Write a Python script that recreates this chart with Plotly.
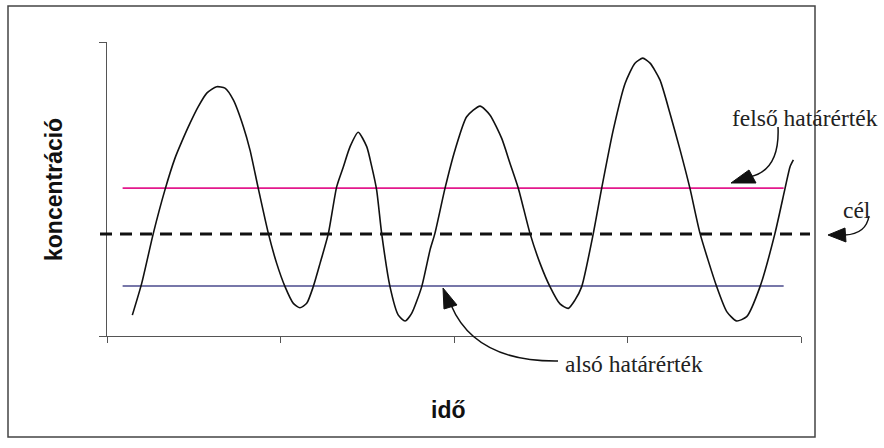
import plotly.graph_objects as go

# ---- data ----
time = [1.46, 2.00, 2.67, 3.34, 3.92, 4.31, 4.78, 5.26, 5.75, 6.32, 6.80, 7.28, 7.86, 8.24,
        8.72, 9.30, 9.78, 10.26, 10.74, 11.12, 11.51, 11.89, 12.28, 12.76, 13.24, 13.62,
        14.01, 14.48, 14.97, 15.26, 15.54, 15.83, 16.31, 16.79, 17.18, 17.56, 18.14, 18.62,
        18.90, 19.48, 20.06, 20.73, 21.50, 22.07, 22.75, 23.23, 23.71, 24.38, 24.96, 25.53,
        26.11, 26.59, 26.97, 27.36, 28.03, 28.51, 29.18, 29.86, 30.43, 30.88, 31.30, 31.87,
        32.45, 33.03, 33.60, 34.18, 35.14, 35.72, 36.29, 36.87, 37.64, 38.50, 39.08, 39.37,
        39.56]
concentration = [7.1, 17.9, 34.9, 49.7, 60.5, 66.1, 72.3, 78.0, 82.6, 84.8, 84.3, 80.3, 71.2,
                 63.3, 50.2, 34.9, 24.7, 16.8, 11.1, 9.6, 11.1, 16.8, 24.7, 34.9, 50.8, 57.5,
                 64.4, 69.3, 64.4, 57.6, 49.7, 34.9, 16.8, 7.1, 5.1, 7.7, 16.8, 29.3, 34.9,
                 50.2, 63.3, 74.6, 78.2, 75.2, 67.2, 58.7, 50.2, 34.9, 24.7, 16.8, 10.9, 9.4,
                 12.2, 16.8, 34.9, 50.2, 70.1, 85.9, 92.8, 94.5, 92.8, 87.1, 75.7, 63.3, 50.2,
                 34.9, 16.8, 8.3, 5.1, 6.6, 16.8, 34.9, 50.2, 57.6, 59.9]
upper_limit = 50.3
lower_limit = 17.0
target = 34.7
limit_span = [0.9, 39.0]
x_ticks = [0, 10, 20, 30, 40]
y_ticks = [0, 100]

labels = {"x": "idő", "y": "koncentráció", "upper": "felső határérték",
          "lower": "alsó határérték", "target": "cél"}

# ---- layout geometry (pixels) ----
W, H = 884, 448
L, R, T, B = 107, 801, 42, 336


def px(x):
    return (x - L) / (R - L)


def py(y):
    return (B - y) / (B - T)


fig = go.Figure()

fig.add_trace(go.Scatter(x=limit_span, y=[upper_limit] * 2, mode="lines",
                         line=dict(color="#e3188c", width=1.6), hoverinfo="skip"))
fig.add_trace(go.Scatter(x=limit_span, y=[lower_limit] * 2, mode="lines",
                         line=dict(color="#4a4a8c", width=1.6), hoverinfo="skip"))
fig.add_trace(go.Scatter(x=time, y=concentration, mode="lines",
                         line=dict(color="#111111", width=1.6, shape="spline", smoothing=0.6),
                         hoverinfo="skip"))

shapes = []
# outer frame
shapes.append(dict(type="rect", xref="paper", yref="paper",
                   x0=px(8), x1=px(815), y0=py(437), y1=py(6),
                   line=dict(color="#444444", width=1.5), layer="below"))
# target dashed line
shapes.append(dict(type="line", xref="paper", yref="y",
                   x0=px(100), x1=px(810), y0=target, y1=target,
                   line=dict(color="#111111", width=3, dash="12px,8px")))


def curve(p0, c, p1):
    return ("M %.5f,%.5f Q %.5f,%.5f %.5f,%.5f" %
            (px(p0[0]), py(p0[1]), px(c[0]), py(c[1]), px(p1[0]), py(p1[1])))


def tri(a, b, c):
    return ("M %.5f,%.5f L %.5f,%.5f L %.5f,%.5f Z" %
            (px(a[0]), py(a[1]), px(b[0]), py(b[1]), px(c[0]), py(c[1])))


arrow_line = dict(color="#111111", width=1.5)
# felső arrow
shapes.append(dict(type="path", xref="paper", yref="paper",
                   path=curve((778, 127), (780, 170), (750, 177)), line=arrow_line))
shapes.append(dict(type="path", xref="paper", yref="paper",
                   path=tri((731, 183), (749, 170), (756, 183)),
                   fillcolor="#111111", line=dict(color="#111111", width=1)))
# cél arrow
shapes.append(dict(type="path", xref="paper", yref="paper",
                   path=curve((869, 216), (866, 234), (845, 235)), line=arrow_line))
shapes.append(dict(type="path", xref="paper", yref="paper",
                   path=tri((828, 235), (845, 228), (846, 242)),
                   fillcolor="#111111", line=dict(color="#111111", width=1)))
# alsó arrow
shapes.append(dict(type="path", xref="paper", yref="paper",
                   path=curve((451, 305), (475, 362), (558, 361)), line=arrow_line))
shapes.append(dict(type="path", xref="paper", yref="paper",
                   path=tri((443, 288), (444, 309), (457, 305)),
                   fillcolor="#111111", line=dict(color="#111111", width=1)))

serif = dict(family="Liberation Serif, Times New Roman, serif", size=23.5, color="#222222")
sans = dict(family="Liberation Sans, Arial, sans-serif", size=23, color="#111111")

annotations = [
    dict(text="<b>%s</b>" % labels["x"], x=px(448), y=py(410), xref="paper", yref="paper",
         showarrow=False, font=sans, xanchor="center", yanchor="middle"),
    dict(text="<b>%s</b>" % labels["y"], x=px(54), y=py(190), xref="paper", yref="paper",
         showarrow=False, font=sans, textangle=-90, xanchor="center", yanchor="middle"),
    dict(text=labels["upper"], x=px(730), y=py(118), xref="paper", yref="paper",
         showarrow=False, font=serif, xanchor="left", yanchor="middle"),
    dict(text=labels["lower"], x=px(563), y=py(364), xref="paper", yref="paper",
         showarrow=False, font=serif, xanchor="left", yanchor="middle"),
    dict(text=labels["target"], x=px(841), y=py(210), xref="paper", yref="paper",
         showarrow=False, font=serif, xanchor="left", yanchor="middle"),
]

fig.update_layout(
    width=W, height=H,
    margin=dict(l=L, r=W - R, t=T, b=H - B, pad=0),
    paper_bgcolor="white", plot_bgcolor="white",
    showlegend=False,
    shapes=shapes, annotations=annotations,
    xaxis=dict(range=[0, 40], tickvals=x_ticks, ticks="outside", ticklen=6,
               tickcolor="#555555", tickwidth=1.2, showline=True, linecolor="#555555",
               linewidth=1.2, showgrid=False, zeroline=False, showticklabels=False,
               fixedrange=True),
    yaxis=dict(range=[0, 100], tickvals=y_ticks, ticks="outside", ticklen=7,
               tickcolor="#555555", tickwidth=1.2, showline=True, linecolor="#555555",
               linewidth=1.2, showgrid=True, gridcolor="#333333", gridwidth=1.2,
               zeroline=False, showticklabels=False, fixedrange=True),
)

fig.write_html("out.html", config={"displayModeBar": False},
               post_script="document.body.style.margin='0';document.body.style.overflow='hidden';")
